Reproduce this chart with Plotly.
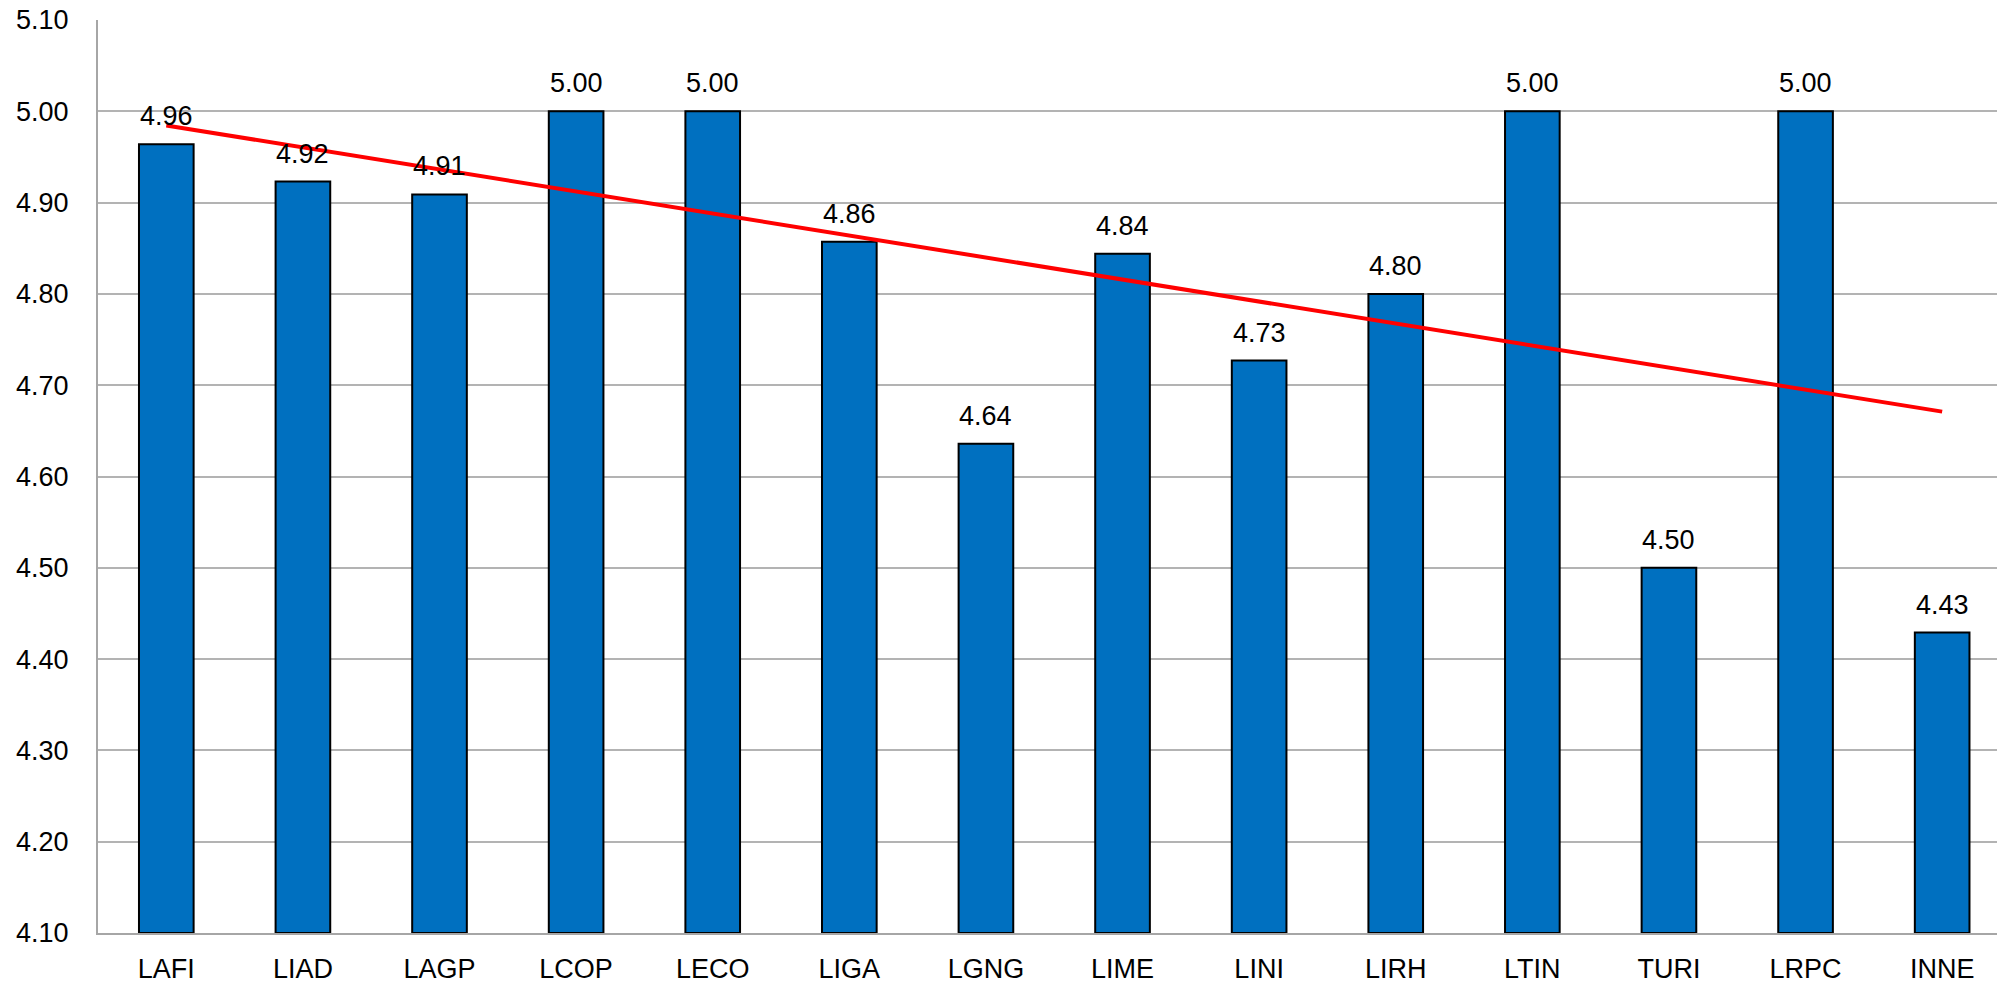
import numpy as np
import plotly.graph_objects as go

# categories and average scores
codes = ["LAFI", "LIAD", "LAGP", "LCOP", "LECO", "LIGA", "LGNG",
         "LIME", "LINI", "LIRH", "LTIN", "TURI", "LRPC", "INNE"]
scores = [4.964, 4.923, 4.909, 5.00, 5.00, 4.857, 4.636,
          4.844, 4.727, 4.800, 5.00, 4.500, 5.00, 4.429]
y_ticks = [4.10, 4.20, 4.30, 4.40, 4.50, 4.60, 4.70, 4.80, 4.90, 5.00, 5.10]

FONT = "Liberation Sans, Arial, sans-serif"

# linear trend over the category index (like an Excel trendline)
idx = np.arange(len(scores))
slope, intercept = np.polyfit(idx, scores, 1)
trend = intercept + slope * idx

fig = go.Figure()

fig.add_trace(go.Bar(
    x=codes,
    y=[s - 4.10 for s in scores],
    base=4.10,
    width=0.40,
    marker=dict(color="#0070C0", line=dict(color="black", width=2)),
    hoverinfo="skip",
))

fig.add_trace(go.Scatter(
    x=codes,
    y=trend,
    mode="lines",
    line=dict(color="#FF0000", width=4),
    hoverinfo="skip",
))

for code, s in zip(codes, scores):
    fig.add_annotation(
        x=code, y=s, text=f"{s:.2f}",
        showarrow=False, yanchor="bottom", yshift=11,
        font=dict(family=FONT, size=27, color="black"),
    )

# the page body has an 8px margin, so the figure is a bit smaller
fig.update_layout(
    width=1997,
    height=978,
    margin=dict(l=90, r=0, t=12, b=53),
    plot_bgcolor="white",
    paper_bgcolor="white",
    showlegend=False,
    font=dict(family=FONT, size=27, color="black"),
)
fig.update_xaxes(
    range=[-0.5, 13.46],
    automargin=False,
    showgrid=False,
    showline=True,
    linecolor="#a6a6a6",
    linewidth=2,
    ticks="outside",
    ticklen=11,
    tickcolor="rgba(0,0,0,0)",
    tickfont=dict(family=FONT, size=27, color="black"),
)
fig.update_yaxes(
    range=[4.10, 5.10],
    automargin=False,
    tickvals=y_ticks,
    tickformat=".2f",
    ticklabeloverflow="allow",
    showgrid=True,
    gridcolor="#b3b3b3",
    gridwidth=1.5,
    showline=True,
    linecolor="#a6a6a6",
    linewidth=2,
    ticks="outside",
    ticklen=22,
    tickcolor="rgba(0,0,0,0)",
    tickfont=dict(family=FONT, size=27, color="black"),
    zeroline=False,
)

fig.write_html("out.html")
